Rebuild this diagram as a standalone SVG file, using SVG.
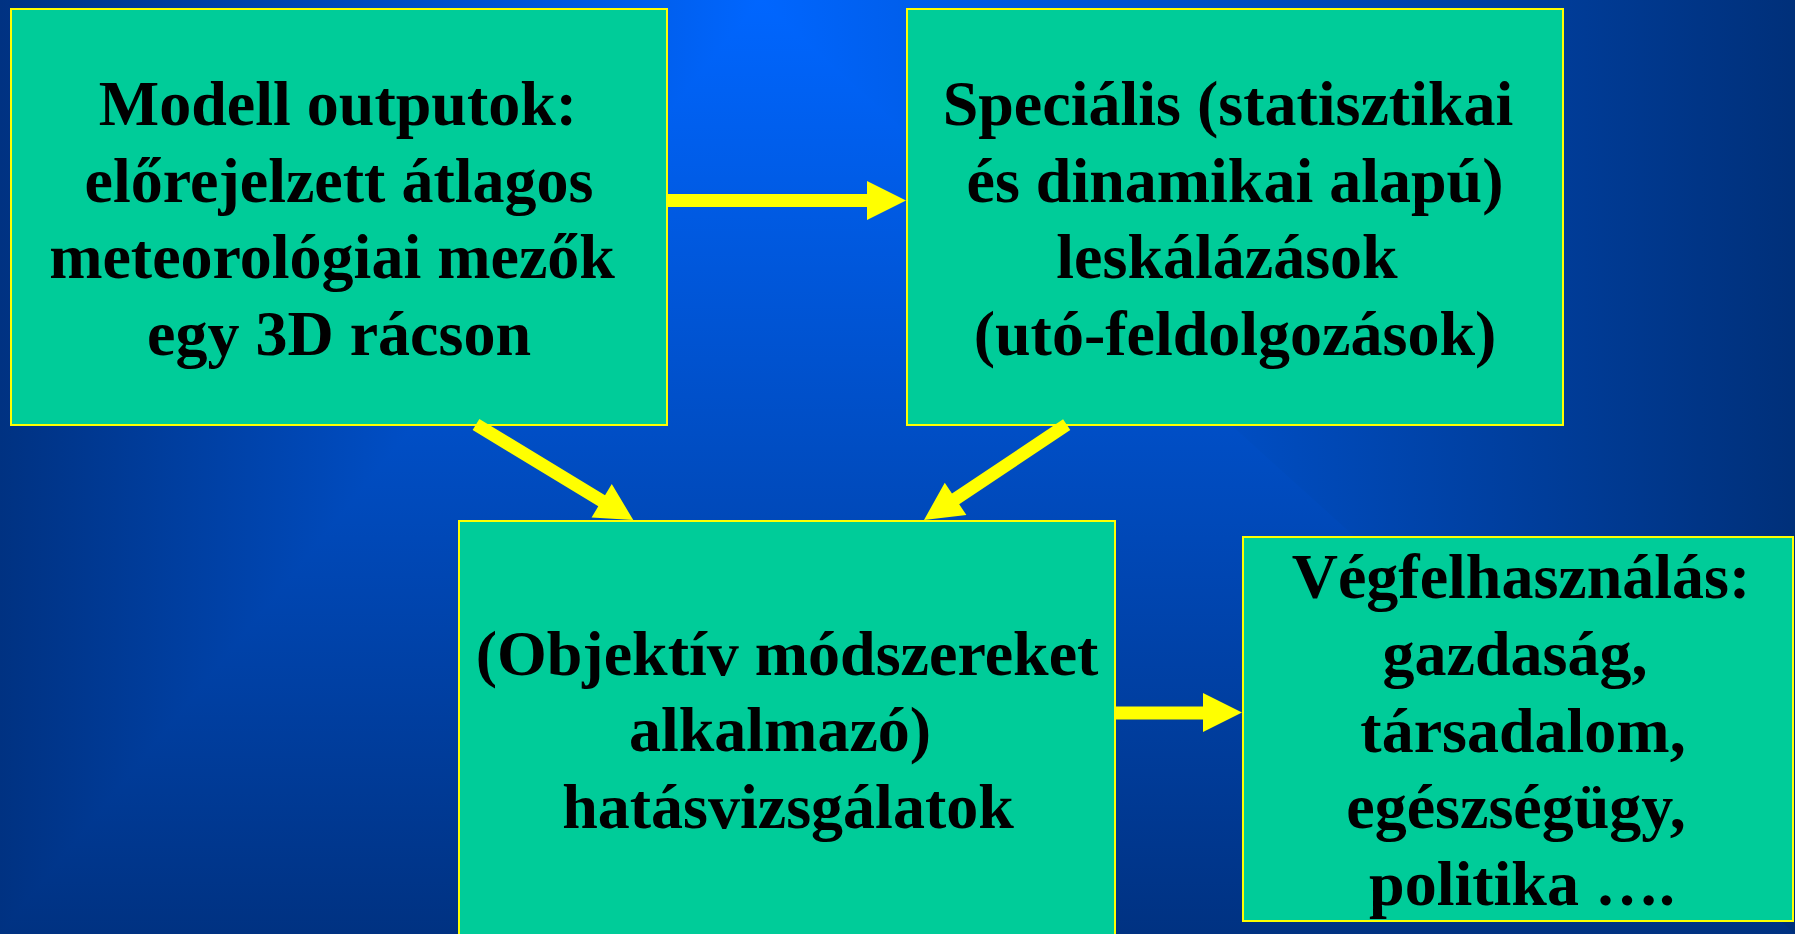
<svg xmlns="http://www.w3.org/2000/svg" width="1795" height="934" viewBox="0 0 1795 934">
<defs>
<linearGradient id="gB" gradientUnits="userSpaceOnUse" x1="0" y1="0" x2="0" y2="934"><stop offset="0" stop-color="#0066FF"/><stop offset="1" stop-color="#003282"/></linearGradient>
<linearGradient id="gL" gradientUnits="userSpaceOnUse" x1="760" y1="0" x2="0" y2="0"><stop offset="0" stop-color="#0066FF"/><stop offset="1" stop-color="#003282"/></linearGradient>
<linearGradient id="gR" gradientUnits="userSpaceOnUse" x1="760" y1="0" x2="1795" y2="0"><stop offset="0" stop-color="#0066FF"/><stop offset="1" stop-color="#00307A"/></linearGradient>
<style>
.box{fill:#00CC99;stroke:#FFFF00;stroke-width:2}
.t{font-family:"Liberation Serif","Times New Roman",serif;font-weight:bold;font-size:64px;fill:#000;text-anchor:middle}
.arr{fill:#FFFF00}
</style>
</defs>
<g id="background">
<rect x="0" y="0" width="1795" height="934" fill="url(#gB)"/>
<polygon points="760,0 0,0 0,934" fill="url(#gL)"/>
<polygon points="760,0 1795,0 1795,934" fill="url(#gR)"/>
</g>
<g id="node-model">
<rect class="box" x="11" y="9" width="656" height="416"/>
<text class="t" x="338" y="125">Modell outputok:</text>
<text class="t" x="339" y="202">előrejelzett átlagos</text>
<text class="t" x="332" y="278">meteorológiai mezők</text>
<text class="t" x="339" y="355">egy 3D rácson</text>
</g>
<g id="node-leskalazas">
<rect class="box" x="907" y="9" width="656" height="416"/>
<text class="t" x="1228" y="125">Speciális (statisztikai</text>
<text class="t" x="1235" y="202">és dinamikai alapú)</text>
<text class="t" x="1227" y="278">leskálázások</text>
<text class="t" x="1235" y="355">(utó-feldolgozások)</text>
</g>
<g id="node-hatas">
<rect class="box" x="459" y="521" width="656" height="430"/>
<text class="t" x="787" y="675">(Objektív módszereket</text>
<text class="t" x="780" y="751">alkalmazó)</text>
<text class="t" x="788" y="828">hatásvizsgálatok</text>
</g>
<g id="node-vegfelhasznalas">
<rect class="box" x="1243" y="537" width="550" height="384"/>
<text class="t" x="1521" y="598">Végfelhasználás:</text>
<text class="t" x="1515" y="675">gazdaság,</text>
<text class="t" x="1523" y="752">társadalom,</text>
<text class="t" x="1516" y="828">egészségügy,</text>
<text class="t" x="1522" y="905">politika ….</text>
</g>
<g id="connectors">
<polygon class="arr" points="668,194 867,194 867,181 906,200.5 867,220 867,207 668,207"/>
<polygon class="arr" points="1116,706.5 1203,706.5 1203,693 1242,712.5 1203,732 1203,719.5 1116,719.5"/>
<polygon class="arr" transform="translate(476,424.5) rotate(31.26)" points="0,-6.5 147,-6.5 147,-19.5 184,0 147,19.5 147,6.5 0,6.5"/>
<polygon class="arr" transform="translate(1066.7,424.7) rotate(146.27)" points="0,-6.5 133.6,-6.5 133.6,-19.5 171.6,0 133.6,19.5 133.6,6.5 0,6.5"/>
</g>
</svg>
